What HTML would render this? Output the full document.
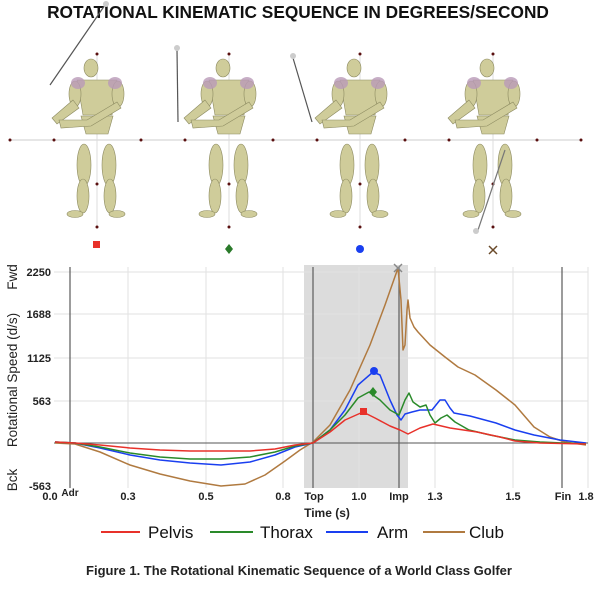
<!DOCTYPE html>
<html><head><meta charset="utf-8"><style>
html,body{margin:0;padding:0;background:#fff;}
svg{display:block;font-family:"Liberation Sans",sans-serif;}
</style></head><body>
<svg width="600" height="590" viewBox="0 0 600 590" xmlns="http://www.w3.org/2000/svg">
<text x="298" y="18" text-anchor="middle" font-size="17.3" font-weight="bold" fill="#111">ROTATIONAL KINEMATIC SEQUENCE IN DEGREES/SECOND</text>

<line x1="10" y1="140" x2="582" y2="140" stroke="#ccc" stroke-width="1"/>
<g fill="#5a1010">
<circle cx="10" cy="140" r="1.5"/><circle cx="54" cy="140" r="1.5"/><circle cx="141" cy="140" r="1.5"/><circle cx="185" cy="140" r="1.5"/><circle cx="273" cy="140" r="1.5"/><circle cx="317" cy="140" r="1.5"/><circle cx="405" cy="140" r="1.5"/><circle cx="449" cy="140" r="1.5"/><circle cx="537" cy="140" r="1.5"/><circle cx="581" cy="140" r="1.5"/>
</g>
<defs>
<g id="fig">
<line x1="0" y1="-86" x2="0" y2="87" stroke="#ddd" stroke-width="1"/>
<circle cx="0" cy="-86" r="1.5" fill="#5a1010"/><circle cx="0" cy="44" r="1.5" fill="#5a1010"/><circle cx="0" cy="87" r="1.5" fill="#5a1010"/>
<g fill="#cfcc9a" stroke="#8c8a60" stroke-width="0.6">
<ellipse cx="-13" cy="25" rx="7" ry="21"/>
<ellipse cx="12" cy="25" rx="7" ry="21"/>
<ellipse cx="-14" cy="56" rx="6" ry="17"/>
<ellipse cx="13" cy="56" rx="6" ry="17"/>
<ellipse cx="-22" cy="74" rx="8" ry="3.5"/>
<ellipse cx="20" cy="74" rx="8" ry="3.5"/>
<path d="M-20,-60 L20,-60 L15,-25 L-14,-25 Z"/>
<path d="M-16,-24 L16,-24 L11,-6 L-11,-6 Z"/>
<ellipse cx="-6" cy="-72" rx="7" ry="9"/>
<ellipse cx="-22" cy="-46" rx="6" ry="13"/>
<ellipse cx="21" cy="-46" rx="6" ry="13"/>
<path d="M-24,-40 L-45,-22 L-40,-16 L-18,-32 Z"/>
<path d="M20,-38 L-10,-20 L-38,-20 L-36,-12 L-6,-14 L24,-32 Z"/>
</g>
<ellipse cx="-19" cy="-57" rx="7" ry="6" fill="#b99ab8" opacity="0.8"/>
<ellipse cx="18" cy="-57" rx="7" ry="6" fill="#b99ab8" opacity="0.8"/>
</g>
</defs>
<use href="#fig" x="97" y="140"/>
<use href="#fig" x="229" y="140"/>
<use href="#fig" x="360" y="140"/>
<use href="#fig" x="493" y="140"/>
<line x1="50" y1="85" x2="105" y2="5" stroke="#555" stroke-width="1.2"/>
<circle cx="106" cy="4" r="3" fill="#ccc"/>
<line x1="178" y1="122" x2="177" y2="50" stroke="#555" stroke-width="1.2"/>
<circle cx="177" cy="48" r="3" fill="#ccc"/>
<line x1="312" y1="122" x2="293" y2="58" stroke="#555" stroke-width="1.2"/>
<circle cx="293" cy="56" r="3" fill="#ccc"/>
<line x1="505" y1="150" x2="478" y2="230" stroke="#777" stroke-width="1.2"/>
<circle cx="476" cy="231" r="3" fill="#ccc"/>
<rect x="93" y="241" width="7" height="7" fill="#e8312a"/>
<path d="M229,244 L233,249 L229,254 L225,249 Z" fill="#2a7a2a"/>
<circle cx="360" cy="249" r="4" fill="#1a3ff0"/>
<path d="M489,246 L497,254 M497,246 L489,254" stroke="#6a4a2a" stroke-width="1.5"/>

<rect x="304" y="265" width="104" height="223" fill="#dcdcdc"/>
<g stroke="#e2e2e2" stroke-width="1">
<line x1="54" y1="272" x2="588" y2="272"/><line x1="54" y1="314" x2="588" y2="314"/><line x1="54" y1="358" x2="588" y2="358"/><line x1="54" y1="401" x2="588" y2="401"/>
<line x1="128" y1="267" x2="128" y2="488"/><line x1="206" y1="267" x2="206" y2="488"/><line x1="283" y1="267" x2="283" y2="488"/><line x1="359" y1="267" x2="359" y2="488"/><line x1="435" y1="267" x2="435" y2="488"/><line x1="513" y1="267" x2="513" y2="488"/><line x1="588" y1="267" x2="588" y2="488"/>
</g>
<line x1="54" y1="443" x2="588" y2="443" stroke="#555" stroke-width="1"/>
<g stroke="#666" stroke-width="1.3">
<line x1="70" y1="267" x2="70" y2="488"/><line x1="313" y1="267" x2="313" y2="488"/><line x1="399" y1="267" x2="399" y2="488"/><line x1="562" y1="267" x2="562" y2="488"/>
</g>
<g fill="none" stroke-width="1.5" stroke-linejoin="round">
<path stroke="#b07a40" d="M55,443 L75,444 L100,452 L130,465 L160,474 L190,481 L221,486 L245,484 L265,475 L285,461 L300,450 L313,442 L330,425 L350,390 L370,345 L385,305 L398,268 L401,300 L403,350 L405,345 L407,310 L408,300 L410,318 L414,327 L418,332 L430,345 L445,357 L458,367 L475,375 L496,390 L515,405 L534,427 L550,437 L565,442 L586,445"/>
<path stroke="#1a3ff0" d="M55,442 L75,443 L100,448 L130,455 L160,460 L190,463 L221,465 L250,462 L275,455 L295,447 L313,443 L330,430 L345,410 L358,385 L373,372 L380,375 L390,400 L397,415 L401,420 L405,414 L412,412 L420,410 L426,410 L432,410 L440,400 L445,400 L450,408 L454,413 L470,416 L496,423 L515,430 L534,435 L560,440 L586,443"/>
<path stroke="#2a8a2a" d="M55,442 L75,443 L100,447 L130,453 L160,457 L190,459 L221,459 L250,457 L275,452 L295,446 L313,443 L330,430 L345,415 L358,398 L369,392 L380,400 L390,410 L399,415 L405,400 L409,393 L413,402 L420,407 L426,405 L430,415 L435,423 L441,418 L447,415 L455,422 L469,430 L490,435 L515,440 L540,442 L586,444"/>
<path stroke="#e8312a" d="M55,442 L75,443 L100,445 L130,448 L160,450 L190,451 L221,451 L250,451 L275,449 L295,445 L313,443 L330,432 L345,420 L363,412 L375,418 L390,426 L400,430 L408,434 L420,428 L433,424 L450,428 L477,432 L500,437 L515,441 L540,443 L586,444"/>
</g>
<rect x="360" y="408" width="7" height="7" fill="#e8312a"/>
<path d="M373,387 L377,392 L373,397 L369,392 Z" fill="#2a8a2a"/>
<circle cx="374" cy="371" r="4" fill="#1a3ff0"/>
<path d="M394,264 L402,272 M402,264 L394,272" stroke="#888" stroke-width="1.5"/>

<g font-size="11" font-weight="bold" fill="#222" text-anchor="end">
<text x="51" y="276">2250</text><text x="51" y="318">1688</text><text x="51" y="362">1125</text><text x="51" y="405">563</text><text x="51" y="490">-563</text>
</g>
<g font-size="13.5" fill="#222" text-anchor="middle">
<text transform="translate(17,277) rotate(-90)">Fwd</text>
<text transform="translate(17,380) rotate(-90)">Rotational Speed (d/s)</text>
<text transform="translate(17,480) rotate(-90)">Bck</text>
</g>
<g font-size="11" font-weight="bold" fill="#222" text-anchor="middle">
<text x="50" y="500">0.0</text><text x="70" y="496" font-size="10">Adr</text>
<text x="128" y="500">0.3</text><text x="206" y="500">0.5</text><text x="283" y="500">0.8</text>
<text x="314" y="500">Top</text><text x="359" y="500">1.0</text><text x="399" y="500">Imp</text>
<text x="435" y="500">1.3</text><text x="513" y="500">1.5</text><text x="563" y="500">Fin</text><text x="586" y="500">1.8</text>
</g>
<text x="327" y="517" text-anchor="middle" font-size="12" font-weight="bold" fill="#222">Time (s)</text>
<g stroke-width="2">
<line x1="101" y1="532" x2="140" y2="532" stroke="#e8312a"/>
<line x1="210" y1="532" x2="253" y2="532" stroke="#2a8a2a"/>
<line x1="326" y1="532" x2="368" y2="532" stroke="#1a3ff0"/>
<line x1="423" y1="532" x2="465" y2="532" stroke="#b07a40"/>
</g>
<g font-size="17" fill="#111">
<text x="148" y="538">Pelvis</text><text x="260" y="538">Thorax</text><text x="377" y="538">Arm</text><text x="469" y="538">Club</text>
</g>
<text x="299" y="575" text-anchor="middle" font-size="13" font-weight="bold" fill="#222">Figure 1. The Rotational Kinematic Sequence of a World Class Golfer</text>
</svg>
</body></html>
